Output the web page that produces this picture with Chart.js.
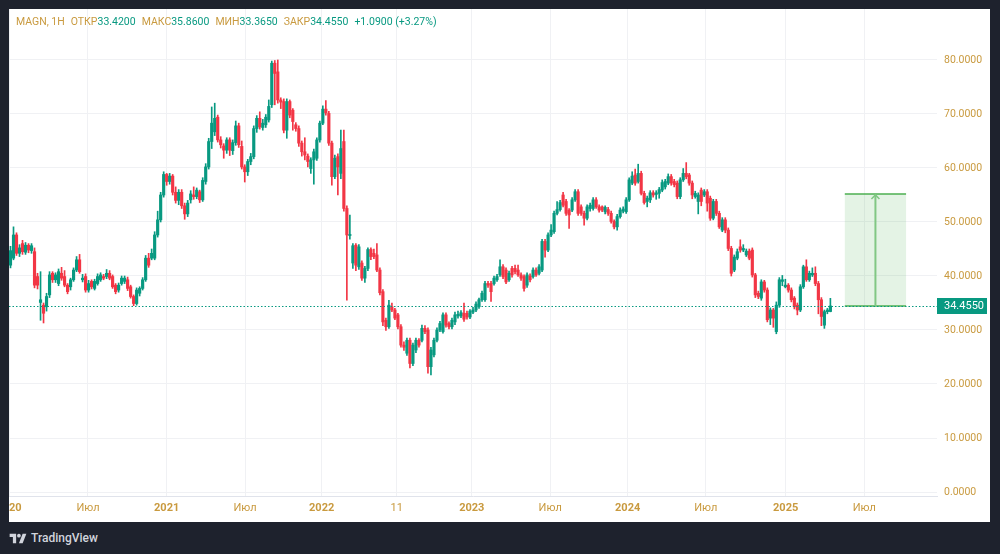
<!DOCTYPE html>
<html><head><meta charset="utf-8">
<script src="https://cdn.jsdelivr.net/npm/chart.js@4.4.1/dist/chart.umd.min.js"></script>
<style>
html,body{margin:0;padding:0;}
body{background:#1e222d;width:1000px;height:554px;overflow:hidden;position:relative;font-family:Roboto,"Liberation Sans",sans-serif;}
#card{position:absolute;left:9px;top:9px;width:981px;height:513px;background:#fff;}
#c{position:absolute;left:0;top:0;}
#hdr{position:absolute;left:7px;top:6px;font-size:10.5px;white-space:nowrap;color:#c99a3f;}
#hdr span{margin-right:6px;}
#hdr b{font-weight:normal;color:#089981;}
#foot{position:absolute;left:9px;top:531px;display:flex;align-items:center;color:#d1d4dc;font-size:12px;font-weight:500;}
#foot svg{margin-right:4px;}
</style></head>
<body>
<div id="card">
<canvas id="c" width="981" height="513"></canvas>
<div id="hdr"><span>MAGN, 1H</span><span>ОТКР<b>33.4200</b></span><span>МАКС<b>35.8600</b></span><span>МИН<b>33.3650</b></span><span>ЗАКР<b>34.4550</b></span><span><b>+1.0900 (+3.27%)</b></span></div>
</div>
<div id="foot"><svg width="18" height="13" viewBox="0 0 36 28"><path d="M14 24H7V11H0V4h14z" fill="#d1d4dc"/><circle cx="20" cy="8" r="4" fill="#d1d4dc"/><path d="M28 4h8l-8 20h-8z" fill="#d1d4dc"/></svg>TradingView</div>
<script>
// weekly candles, MAGN
const open = [
42.0,43.3,47.6,44.2,46.0,44.4,45.7,44.7,44.5,39.9,
35.1,34.6,34.3,36.5,40.5,39.3,38.6,40.5,39.9,38.3,
38.0,39.3,41.1,43.0,39.3,39.9,37.4,39.0,37.7,38.6,
39.3,39.9,39.9,40.5,39.9,38.3,37.4,38.6,39.0,39.3,
38.0,36.2,34.9,36.8,37.7,39.3,43.3,43.3,43.3,47.6,
50.4,55.0,58.8,57.5,58.5,55.5,54.0,55.5,53.0,51.5,
54.1,55.0,54.7,55.6,54.1,57.5,60.2,64.9,66.7,69.4,
65.2,64.1,63.3,65.2,63.2,64.7,67.8,64.0,60.2,59.3,
61.2,62.1,67.3,69.2,67.5,68.0,68.9,71.7,79.4,77.8,
72.6,72.3,67.0,72.3,70.7,68.0,67.3,64.6,63.0,62.2,
59.9,61.5,61.8,65.2,68.3,70.9,70.1,64.6,58.4,62.1,
59.0,64.9,52.5,47.5,42.4,45.7,41.7,42.4,39.6,41.4,
44.9,44.2,43.9,41.1,37.1,31.8,30.6,34.3,33.7,32.8,
30.6,27.2,25.7,28.1,23.8,26.3,28.1,28.1,30.3,30.0,
23.2,25.4,28.1,30.0,29.7,32.8,31.2,30.6,31.5,32.6,
32.6,33.1,33.1,32.4,33.3,33.7,34.3,35.6,35.6,38.6,
38.6,38.6,39.3,40.2,41.7,41.1,39.3,41.4,41.4,41.1,
40.2,39.9,38.3,40.0,39.9,41.1,40.5,41.1,46.4,44.8,
47.6,48.2,51.6,52.3,55.0,53.8,52.2,52.2,54.1,55.6,
52.8,51.6,50.7,52.5,52.5,54.1,52.8,52.8,51.9,52.3,
51.6,50.1,49.1,51.0,52.0,51.9,54.1,57.2,58.7,57.5,
59.0,55.3,53.8,54.1,55.4,55.1,55.3,55.9,56.5,57.2,
58.4,57.5,57.2,54.7,57.8,59.0,58.7,57.2,54.7,53.8,
55.9,55.0,55.6,54.4,50.7,53.8,51.6,48.5,50.4,48.5,
45.1,41.1,43.3,45.4,44.8,43.9,44.6,44.8,40.2,36.8,
35.9,38.9,37.4,32.2,33.7,29.7,34.6,39.0,38.0,38.3,
37.4,35.9,34.6,33.7,38.0,41.7,39.3,40.2,40.5,38.6,
35.6,30.9,33.4,33.42
];
const high = [
45.5,49.1,48.0,45.8,46.6,46.2,46.0,46.0,45.2,40.5,
40.8,35.0,36.8,40.8,40.8,40.6,41.3,41.6,41.0,38.6,
39.6,41.5,43.6,44.0,40.3,40.4,39.2,39.3,39.4,40.4,
40.6,40.3,41.2,41.0,40.2,38.6,38.7,40.0,40.0,39.8,
38.3,36.5,37.8,38.0,39.7,43.8,44.2,45.0,48.2,52.0,
55.5,59.3,59.0,59.0,58.8,56.5,56.0,56.0,53.5,54.0,
55.8,56.5,56.3,55.9,58.2,60.8,65.5,71.3,72.0,69.8,
65.8,64.5,65.6,65.6,65.2,68.7,68.3,65.0,60.6,61.6,
62.7,67.8,69.7,70.4,69.0,69.9,72.6,79.8,79.9,80.0,
73.0,72.8,72.8,72.6,71.0,68.4,67.8,65.0,65.6,62.6,
61.9,63.5,65.6,68.7,71.5,72.5,70.5,65.0,62.4,62.6,
67.0,67.0,53.0,51.3,46.0,46.0,45.8,42.8,41.8,45.2,
45.2,45.0,46.0,41.5,37.5,32.2,35.5,35.0,34.0,33.1,
31.0,27.8,28.5,28.5,27.6,28.5,28.4,30.9,30.8,30.4,
26.8,28.5,30.4,31.6,33.2,33.2,31.5,32.2,33.3,33.5,
33.6,35.0,33.5,33.8,34.2,35.2,35.9,37.2,39.0,39.0,
39.0,40.0,40.3,43.0,42.1,41.5,40.9,41.8,42.0,42.0,
40.6,40.2,40.6,40.4,41.5,41.5,42.1,46.8,46.8,48.0,
49.5,52.0,53.8,54.0,55.5,54.2,52.5,54.5,56.0,56.0,
53.2,52.0,53.2,53.5,54.5,54.5,53.2,53.0,53.0,52.7,
52.0,50.4,51.4,52.6,52.8,54.5,58.2,59.3,59.8,60.7,
59.4,55.7,54.8,55.8,55.8,55.8,56.4,57.8,57.9,58.9,
58.8,57.9,57.6,58.2,59.9,61.0,59.0,57.6,55.7,55.4,
56.3,56.0,56.0,54.8,54.2,54.2,52.0,50.8,50.8,48.9,
45.5,43.9,45.0,46.7,45.8,45.0,45.0,45.2,40.5,37.2,
39.3,39.2,37.8,34.1,34.0,35.2,39.7,40.1,39.4,38.6,
37.8,36.2,35.0,38.4,42.0,43.0,40.9,41.5,41.7,39.0,
36.0,33.7,34.0,35.86
];
const low = [
41.5,43.0,43.8,43.6,44.0,44.0,44.3,44.2,37.8,37.6,
31.8,31.3,33.5,36.0,38.8,38.8,38.2,39.2,38.0,36.7,
37.4,39.0,40.8,40.5,38.9,37.0,37.0,37.6,37.4,38.3,
39.0,39.3,39.5,39.3,37.7,36.7,37.0,38.3,38.6,37.3,
35.9,34.5,34.6,36.3,37.4,39.0,41.6,43.0,43.0,47.2,
50.0,54.6,56.8,57.0,55.0,53.5,53.2,52.5,50.5,51.0,
53.5,54.2,54.3,53.6,53.8,57.0,59.8,63.6,66.0,64.8,
63.7,61.8,62.7,62.3,62.5,64.2,63.8,59.8,57.4,58.6,
60.6,61.7,66.6,67.2,67.0,67.5,68.5,71.2,71.7,72.0,
71.0,66.5,65.5,69.3,67.0,66.8,64.0,62.2,61.5,60.2,
59.0,57.0,61.4,64.8,68.0,69.8,64.2,56.8,58.0,55.0,
58.0,52.0,35.5,46.8,41.4,41.0,41.2,39.2,38.8,41.0,
43.0,43.2,40.8,36.5,30.8,29.9,30.3,33.4,31.9,30.2,
26.8,26.2,25.3,23.0,23.4,25.8,26.8,27.8,29.3,22.0,
21.7,25.0,27.8,29.7,29.4,30.5,30.2,30.2,31.0,32.2,
32.3,31.6,32.0,32.1,33.0,33.4,34.0,35.3,35.3,37.9,
35.3,38.3,39.0,39.9,39.5,38.6,39.0,39.8,40.4,39.9,
39.2,37.2,37.9,38.9,39.6,39.9,40.2,40.8,43.5,44.5,
47.3,47.9,51.3,52.0,52.8,51.2,48.8,51.9,53.8,51.2,
51.2,49.4,50.4,52.0,52.2,52.5,51.8,51.9,51.5,51.2,
49.8,48.7,48.5,50.7,51.7,51.6,53.8,56.9,56.8,57.2,
55.0,53.3,52.8,53.6,54.6,54.2,54.4,55.6,56.1,56.9,
56.8,56.5,54.3,54.3,57.5,58.0,56.8,54.3,54.4,51.5,
53.0,54.7,52.0,50.3,50.4,51.2,48.8,48.2,48.0,44.7,
40.0,40.8,43.0,44.4,44.5,43.6,43.0,39.8,36.0,35.8,
35.5,37.0,31.5,31.0,30.5,29.3,34.2,38.2,37.8,37.0,
35.2,33.9,32.8,33.4,37.7,39.0,39.0,39.9,38.2,33.0,
30.8,30.3,33.0,33.365
];
const close = [
44.7,47.6,44.2,45.2,44.5,45.7,44.8,45.6,38.3,38.3,
35.6,33.1,36.2,40.2,39.3,40.2,40.8,39.6,38.3,37.1,
39.3,41.1,43.0,40.8,39.6,37.4,38.6,38.0,39.0,39.9,
40.2,39.6,40.5,39.6,38.0,37.1,38.3,39.6,39.6,37.7,
36.2,34.9,37.4,37.7,39.3,43.3,42.0,44.2,47.6,50.4,
55.0,58.8,57.5,58.5,55.5,54.0,55.5,53.0,51.5,53.5,
55.2,54.7,55.9,54.1,57.7,60.2,64.9,68.3,69.2,65.2,
64.3,63.3,65.2,63.3,64.7,67.8,64.3,60.2,59.3,61.2,
62.1,67.3,69.2,67.6,68.3,69.4,71.4,79.4,77.5,72.6,
72.2,67.0,72.3,69.8,68.6,67.3,64.6,63.0,62.4,61.2,
61.5,63.0,65.2,68.3,70.9,70.2,64.6,58.4,61.8,60.2,
63.6,52.5,47.6,47.6,45.6,42.0,45.4,39.6,41.4,44.9,
43.6,43.6,41.1,36.9,31.5,30.6,34.6,33.7,32.2,30.6,
27.2,26.8,28.1,23.8,27.2,28.1,27.2,30.3,29.7,23.2,
26.3,28.1,30.0,31.2,32.8,30.9,30.6,31.8,32.8,32.9,
33.2,32.0,32.4,33.5,33.7,34.8,35.6,36.8,38.6,38.3,
37.1,39.6,39.9,41.7,39.9,38.9,40.5,40.2,40.8,40.2,
39.6,37.7,40.2,39.3,41.1,40.2,41.7,46.4,44.8,47.6,
48.5,51.6,52.3,53.6,53.1,51.6,51.3,54.1,55.6,51.6,
51.6,50.7,52.8,53.1,54.1,52.8,52.2,52.2,52.7,51.6,
50.1,49.1,51.0,52.2,52.4,54.1,57.8,58.5,57.2,59.0,
55.3,53.6,54.4,55.4,55.0,55.4,56.0,57.3,57.5,58.4,
57.2,56.9,54.7,57.8,59.0,58.4,57.2,55.0,55.3,55.0,
53.8,55.6,53.5,50.7,53.8,51.6,49.1,50.4,48.5,45.1,
40.5,43.5,44.5,44.8,45.1,44.6,43.3,40.2,36.5,36.2,
38.9,37.4,31.9,33.7,32.2,34.6,39.3,39.3,38.3,37.4,
35.6,34.3,33.7,38.0,41.7,39.3,40.5,40.5,38.6,35.6,
32.5,33.4,33.7,34.455
];
const slots = 309;                       // candle slots visible across the time axis
const xTickPos = [-0.5, 25.8, 52, 78.1, 103.6, 128.6, 153.6, 179.7, 205.5, 231.5, 258.1, 284.3];
const xTickLabels = ['2020','Июл','2021','Июл','2022','11','2023','Июл','2024','Июл','2025','Июл'];
const yTicks = [0,10,20,30,40,50,60,70,80];
const lastPrice = 34.455;
const projIdx = [277.8, 298.2];          // projection box time span (slots)
const projPrice = [34.455, 55.2];        // projection box price span

const GREEN = '#089981', RED = '#f23645', GOLD = '#c99a3f';
const col = (i) => close[i] >= open[i] ? GREEN : RED;

const bodies = close.map((c,i)=>({x:i, y:[open[i], c]}));
const wicks = close.map((c,i)=>({x:i, y:[low[i], high[i]]}));

const overlay = {
  id:'overlay',
  afterDatasetsDraw(chart){
    const {ctx, chartArea:a, scales:{x,y}} = chart;
    ctx.save();
    const x0 = x.getPixelForValue(projIdx[0]), x1 = x.getPixelForValue(projIdx[1]);
    const yb = y.getPixelForValue(projPrice[0]), yt = y.getPixelForValue(projPrice[1]);
    ctx.fillStyle = 'rgba(76,175,80,0.15)';
    ctx.fillRect(x0, yt, x1-x0, yb-yt);
    ctx.strokeStyle = '#4caf50'; ctx.lineWidth = 1.5;
    ctx.beginPath(); ctx.moveTo(x0, yt); ctx.lineTo(x1, yt); ctx.stroke();
    ctx.beginPath(); ctx.moveTo(x0, yb); ctx.lineTo(x1, yb); ctx.stroke();
    const xm = (x0+x1)/2;
    ctx.strokeStyle = '#81c784'; ctx.lineWidth = 2;
    ctx.beginPath(); ctx.moveTo(xm, yb); ctx.lineTo(xm, yt+1); ctx.stroke();
    ctx.lineWidth = 1.5;
    ctx.beginPath(); ctx.moveTo(xm-4, yt+5); ctx.lineTo(xm, yt+1); ctx.lineTo(xm+4, yt+5); ctx.stroke();
    const yp = Math.round(y.getPixelForValue(lastPrice)) + 0.5;
    ctx.strokeStyle = GREEN; ctx.lineWidth = 1; ctx.setLineDash([1.5,2]);
    ctx.beginPath(); ctx.moveTo(a.left, yp); ctx.lineTo(a.right, yp); ctx.stroke();
    ctx.restore();
  },
  afterDraw(chart){
    const {ctx, chartArea:a, scales:{y}} = chart;
    const yp = y.getPixelForValue(lastPrice);
    ctx.save();
    ctx.fillStyle = GREEN;
    ctx.fillRect(a.right, Math.round(yp)-8, 50, 16);
    ctx.fillStyle = '#fff';
    ctx.font = '11px Roboto';
    ctx.textBaseline = 'middle';
    ctx.fillText(lastPrice.toFixed(4), a.right+7, Math.round(yp)+0.5);
    ctx.restore();
  }
};

new Chart(document.getElementById('c'), {
  type:'bar',
  data:{datasets:[
    {data:bodies, grouped:false, barThickness:2.5, minBarLength:1,
     backgroundColor:(c)=>col(c.dataIndex), borderWidth:0},
    {data:wicks, grouped:false, barThickness:1, minBarLength:1,
     backgroundColor:(c)=>col(c.dataIndex), borderWidth:0}
  ]},
  options:{
    responsive:false, animation:false, devicePixelRatio:1,
    layout:{padding:0},
    plugins:{legend:{display:false}, tooltip:{enabled:false}, title:{display:false}},
    scales:{
      x:{type:'linear', min:-0.5, max:slots-0.5, offset:false,
        afterBuildTicks:(s)=>{ s.ticks = xTickPos.map(v=>({value:v})); },
        afterFit:(s)=>{ s.height = 26; s.paddingLeft = 0; s.paddingRight = 0; },
        ticks:{autoSkip:false, maxRotation:0, minRotation:0, padding:6, color:GOLD,
          callback:(v,i)=>xTickLabels[i],
          font:(c)=>({family:'Roboto', size:11, weight: /^\d{4}$/.test(xTickLabels[c.index]) ? 'bold' : 'normal'})},
        grid:{color:'#f0f1f4', drawTicks:false, offset:false},
        border:{color:'#e0e3eb'}
      },
      y:{type:'linear', position:'right', min:-0.74, max:89.44,
        afterBuildTicks:(s)=>{ s.ticks = yTicks.map(v=>({value:v})); },
        afterFit:(s)=>{ s.width = 53; s.paddingTop = 0; s.paddingBottom = 0; },
        ticks:{padding:7, color:GOLD, font:{family:'Roboto', size:10.5},
          callback:(v)=>Number(v).toFixed(4)},
        grid:{color:'#f0f1f4', drawTicks:false},
        border:{display:false}
      }
    }
  },
  plugins:[overlay]
});
</script>
</body></html>
